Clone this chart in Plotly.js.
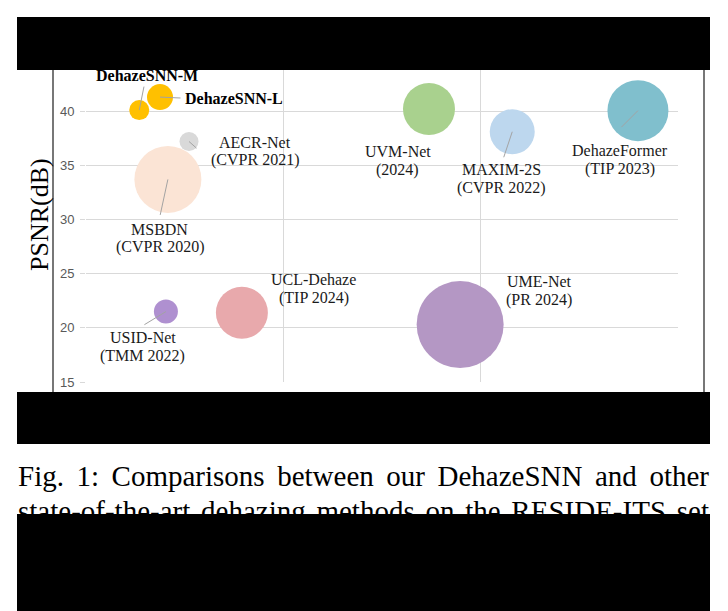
<!DOCTYPE html>
<html>
<head>
<meta charset="utf-8">
<script src="https://cdn.plot.ly/plotly-3.0.1.min.js"></script>
<style>
  html, body { margin: 0; padding: 0; background: #fff; }
  #chart { width: 728px; height: 611px; }
</style>
</head>
<body>
<div id="chart"></div>
<script>
// Methods compared on RESIDE-ITS: computational cost (MACs, G) vs PSNR (dB)
const methods = ['DehazeSNN-M', 'DehazeSNN-L', 'AECR-Net', 'MSBDN', 'USID-Net',
                 'UCL-Dehaze', 'UME-Net', 'UVM-Net', 'MAXIM-2S', 'DehazeFormer'];
const venues  = ['', '', '(CVPR 2021)', '(CVPR 2020)', '(TMM 2022)',
                 '(TIP 2024)', '(PR 2024)', '(2024)', '(CVPR 2022)', '(TIP 2023)'];
const macs    = [27, 37.5, 52.2, 41.5, 40.5, 79, 189.6, 173.8, 216, 279.7];
const psnr    = [40.1, 41.3, 37.2, 33.7, 21.5, 21.4, 20.3, 40.2, 38.1, 40.05];
const bubbleSize = [20, 26, 19, 67, 24, 52, 87, 52, 45, 61];
const yTicks = [15, 20, 25, 30, 35, 40, 45];
const xTicks = [0, 100, 200, 300];
const captionLines = [
  'Fig. 1: Comparisons between our DehazeSNN and other',
  'state-of-the-art dehazing methods on the RESIDE-ITS set'
];

// Styling
const colors = ['#FFC000', '#FFC000', '#D9D9D9', '#FBE4D5', '#AF90D0',
                '#E8A9AC', '#B497C4', '#A9D18E', '#BDD7EE', '#80BFCD'];
const ours = [true, true, false, false, false, false, false, false, false, false];
// label block centre offset from bubble centre (px), and leader-line end offset (px)
const labelOffset = [[8, -35], [74, 1], [66, 10], [-8, 59], [-23, 35],
                     [72, -24], [79, -34], [-31, 52], [-11, 47], [-18, 49]];
const leaderEnd = [[5, -25], [22, 1], [9, 8], [-8, 37], [-23, 14],
                   null, null, null, [-9, 27], [-18, 18]];

const W = 728, H = 611;
const box = { l: 86, r: 678, t: 57, b: 382 };   // chart plotting area, page pixels
const px2x = p => p / W;
const px2y = p => 1 - p / H;

const serif = '"Liberation Serif", "Times New Roman", serif';
const sans = '"Liberation Sans", Arial, sans-serif';

const bubbles = {
  type: 'scatter', mode: 'markers',
  x: macs, y: psnr, text: methods,
  marker: { size: bubbleSize, sizemode: 'diameter', color: colors, opacity: 1, line: { width: 0 } },
  hoverinfo: 'text', cliponaxis: false
};

// Caption, justified across the column, placed on a full-page pixel axis pair
const ctx = document.createElement('canvas').getContext('2d');
const capSize = 29;
ctx.font = capSize + 'px "Liberation Serif"';
const capLeft = 18, capRight = 709, capMid = [479, 514];
const capX = [], capY = [], capT = [];
captionLines.forEach((line, li) => {
  const words = line.split(' ');
  const widths = words.map(w => ctx.measureText(w).width);
  const total = widths.reduce((a, b) => a + b, 0);
  const gap = (capRight - capLeft - total) / (words.length - 1);
  let cx = capLeft;
  words.forEach((w, i) => {
    capX.push(cx + widths[i] / 2);
    capY.push(capMid[li]);
    capT.push(w);
    cx += widths[i] + gap;
  });
});
const caption = {
  type: 'scatter', mode: 'text', xaxis: 'x2', yaxis: 'y2',
  x: capX, y: capY, text: capT, textposition: 'middle center',
  textfont: { family: serif, size: capSize, color: '#000' },
  cliponaxis: false, hoverinfo: 'skip', showlegend: false
};

const annotations = [];
methods.forEach((name, i) => {
  const [dx, dy] = labelOffset[i];
  const font = { family: serif, size: 16, color: '#1a1a1a' };
  if (ours[i]) {
    annotations.push({ x: macs[i], y: psnr[i], xref: 'x', yref: 'y', showarrow: false,
      text: '<b>' + name + '</b>', xshift: dx, yshift: -dy, font: { ...font, color: '#000' } });
  } else {
    annotations.push({ x: macs[i], y: psnr[i], xref: 'x', yref: 'y', showarrow: false,
      text: name, xshift: dx, yshift: -(dy - 9), font });
    annotations.push({ x: macs[i], y: psnr[i], xref: 'x', yref: 'y', showarrow: false,
      text: venues[i], xshift: dx, yshift: -(dy + 9), font });
  }
  if (leaderEnd[i]) {
    annotations.push({ x: macs[i], y: psnr[i], xref: 'x', yref: 'y', text: '',
      showarrow: true, arrowhead: 0, arrowwidth: 1, arrowcolor: '#a3a3a3',
      ax: leaderEnd[i][0], ay: leaderEnd[i][1], standoff: 0, startstandoff: 0 });
  }
});
annotations.push({
  xref: 'paper', yref: 'paper', x: px2x(40), y: px2y(215), text: 'PSNR(dB)',
  textangle: -90, showarrow: false, xanchor: 'center', yanchor: 'middle',
  font: { family: serif, size: 26, color: '#000' }
});

const rect = (x0, y0, x1, y1) => ({ type: 'rect', xref: 'paper', yref: 'paper',
  x0: px2x(x0), x1: px2x(x1), y0: px2y(y1), y1: px2y(y0),
  fillcolor: '#000', line: { width: 0 }, layer: 'above' });
const vline = (x, y0, y1) => ({ type: 'line', xref: 'paper', yref: 'paper',
  x0: px2x(x), x1: px2x(x), y0: px2y(y1), y1: px2y(y0),
  line: { color: '#777', width: 2 }, layer: 'above' });

const layout = {
  width: W, height: H,
  margin: { l: 0, r: 0, t: 0, b: 0, pad: 0 },
  paper_bgcolor: '#fff', plot_bgcolor: 'rgba(0,0,0,0)',
  showlegend: false,
  xaxis: {
    domain: [box.l / W, box.r / W], anchor: 'y',
    range: [0, 300], tickvals: xTicks, showticklabels: false,
    showgrid: true, gridcolor: '#d9d9d9', gridwidth: 1,
    zeroline: false, showline: false, ticks: '', fixedrange: true
  },
  yaxis: {
    domain: [1 - box.b / H, 1 - box.t / H], anchor: 'x',
    range: [15, 45], tickvals: yTicks, showgrid: true, gridcolor: '#d9d9d9', gridwidth: 1,
    zeroline: false, showline: false, ticks: 'outside', ticklen: 5, tickcolor: '#d9d9d9',
    ticklabelstandoff: 3, fixedrange: true,
    tickfont: { family: sans, size: 13, color: '#595959' }
  },
  xaxis2: { domain: [0, 1], anchor: 'y2', range: [0, W], visible: false, fixedrange: true },
  yaxis2: { domain: [0, 1], anchor: 'x2', range: [H, 0], visible: false, fixedrange: true },
  annotations,
  shapes: [
    vline(53, 70, 392), vline(704, 70, 392),
    rect(17, 17, 710, 70),
    rect(17, 392, 710, 444),
    rect(17, 514, 710, 611)
  ]
};

Plotly.newPlot('chart', [bubbles, caption], layout, { displayModeBar: false, staticPlot: true });
</script>
</body>
</html>
